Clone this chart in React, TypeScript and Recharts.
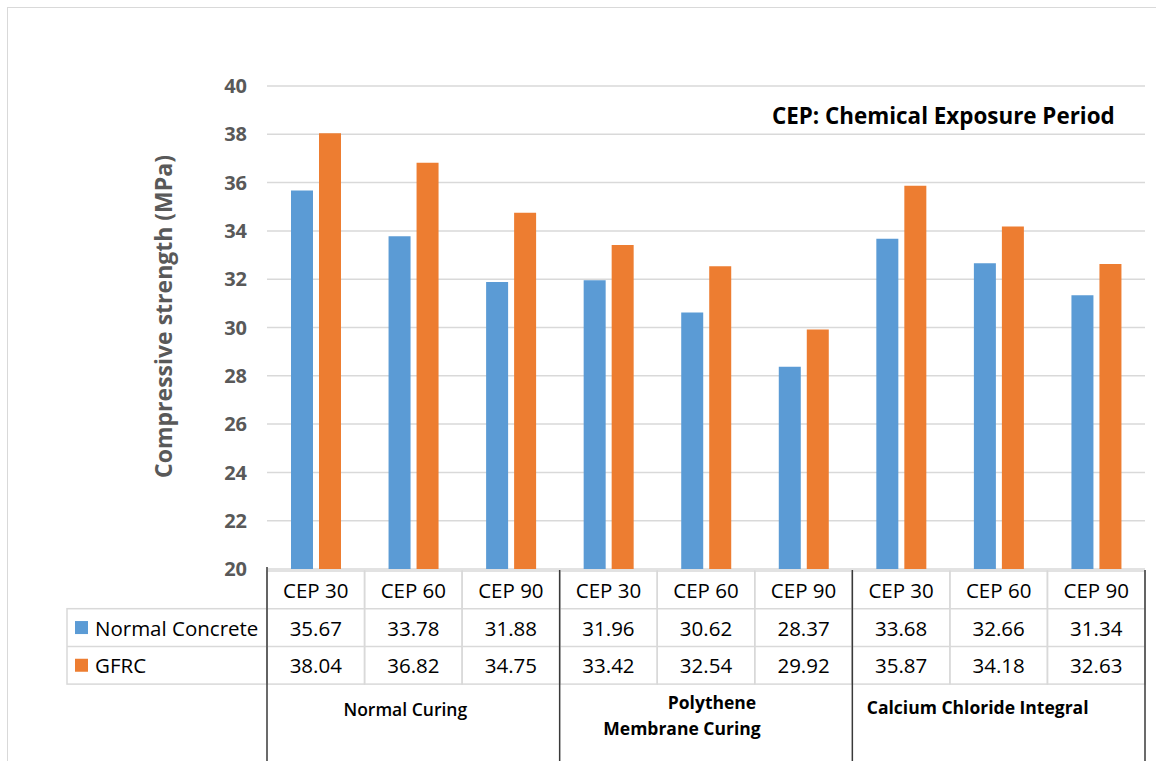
import { BarChart, Bar, XAxis, YAxis, CartesianGrid } from 'recharts';

// Compressive strength per curing method and chemical exposure period
const periods = ['CEP 30', 'CEP 60', 'CEP 90'];
const curingMethods = ['Normal Curing', 'Polythene Membrane Curing', 'Calcium Chloride Integral'];
const normalConcrete = [35.67, 33.78, 31.88, 31.96, 30.62, 28.37, 33.68, 32.66, 31.34];
const gfrc = [38.04, 36.82, 34.75, 33.42, 32.54, 29.92, 35.87, 34.18, 32.63];
const yTicks = [20, 22, 24, 26, 28, 30, 32, 34, 36, 38, 40];

const seriesNames = ['Normal Concrete', 'GFRC'];
const seriesColors = ['#5B9BD5', '#ED7D31'];

const data = curingMethods.flatMap((method, g) =>
  periods.map((period, p) => {
    const i = g * periods.length + p;
    return { id: `${method}|${period}`, period, method, normal: normalConcrete[i], gfrc: gfrc[i] };
  })
);

const WIDTH = 1156;
const HEIGHT = 761;
const MARGIN = { top: 86, right: 11, bottom: 0, left: 207 };
const X_AXIS_HEIGHT = 192;
const PLOT_W = WIDTH - MARGIN.left - 60 - MARGIN.right;
const BAND = PLOT_W / data.length;
const ROW_H = 37.7;
const LEGEND_W = 200;
const FONT = '"Open Sans", sans-serif';
const GRID = '#d9d9d9';
const DARK = '#3a3a3a';

function TableTick(props: any) {
  const { x, y, payload, index } = props;
  const row = data[index];
  const left = x - BAND / 2;
  const right = x + BAND / 2;
  const top = y;
  const values = [row.normal, row.gfrc];
  const posInGroup = index % periods.length;
  const group = Math.floor(index / periods.length);
  const tableBottom = top + ROW_H * 3;

  return (
    <g fontFamily={FONT}>
      {/* cell borders */}
      <rect x={left} y={top} width={BAND} height={ROW_H * 3} fill="none" stroke={GRID} strokeWidth={1.5} />
      <line x1={left} x2={right} y1={top + ROW_H} y2={top + ROW_H} stroke={GRID} strokeWidth={1.5} />
      <line x1={left} x2={right} y1={top + ROW_H * 2} y2={top + ROW_H * 2} stroke={GRID} strokeWidth={1.5} />
      <text x={x} y={top + ROW_H / 2} textAnchor="middle" dominantBaseline="central" fontSize={20.5} fill="#000">
        {payload.value.split('|')[1]}
      </text>
      {values.map((v, k) => (
        <text
          key={k}
          x={x}
          y={top + ROW_H * (k + 1.5)}
          textAnchor="middle"
          dominantBaseline="central"
          fontSize={20.5}
          fill="#000"
        >
          {v.toFixed(2)}
        </text>
      ))}

      {/* series legend column */}
      {index === 0 && (
        <g>
          <rect
            x={left - LEGEND_W}
            y={top + ROW_H}
            width={LEGEND_W}
            height={ROW_H * 2}
            fill="none"
            stroke={GRID}
            strokeWidth={1.5}
          />
          <line
            x1={left - LEGEND_W}
            x2={left}
            y1={top + ROW_H * 2}
            y2={top + ROW_H * 2}
            stroke={GRID}
            strokeWidth={1.5}
          />
          {seriesNames.map((name, k) => (
            <g key={name}>
              <rect
                x={left - LEGEND_W + 8}
                y={top + ROW_H * (k + 1.5) - 6.5}
                width={13}
                height={13}
                fill={seriesColors[k]}
              />
              <text
                x={left - LEGEND_W + 28}
                y={top + ROW_H * (k + 1.5)}
                dominantBaseline="central"
                fontSize={20.5}
                fill="#000"
              >
                {name}
              </text>
            </g>
          ))}
        </g>
      )}

      {/* group separators */}
      {posInGroup === 0 && (
        <line x1={left} x2={left} y1={index === 0 ? top - 4 : top - 1} y2={HEIGHT} stroke={DARK} strokeWidth={1.5} />
      )}
      {index === data.length - 1 && (
        <line x1={right} x2={right} y1={top - 1} y2={HEIGHT} stroke={DARK} strokeWidth={1.5} />
      )}

      {/* curing method labels */}
      {posInGroup === 1 && group === 0 && (
        <text x={x - 8} y={tableBottom + 25} textAnchor="middle" dominantBaseline="central" fontSize={17.5} fontWeight={600} fill="#000">
          {row.method}
        </text>
      )}
      {posInGroup === 1 && group === 1 && (
        <text textAnchor="middle" dominantBaseline="central" fontSize={17.5} fontWeight={700} fill="#000">
          <tspan x={x + 6} y={tableBottom + 18}>Polythene</tspan>
          <tspan x={x - 24} y={tableBottom + 44}>Membrane Curing</tspan>
        </text>
      )}
      {posInGroup === 1 && group === 2 && (
        <text x={x - 21} y={tableBottom + 23} textAnchor="middle" dominantBaseline="central" fontSize={17.5} fontWeight={700} fill="#000">
          {row.method}
        </text>
      )}
    </g>
  );
}

function AxisTitle(props: any) {
  const { viewBox } = props;
  const cx = viewBox.x - 44;
  const cy = viewBox.y + viewBox.height / 2 - 11;
  return (
    <text
      x={cx}
      y={cy}
      transform={`rotate(-90, ${cx}, ${cy})`}
      textAnchor="middle"
      dominantBaseline="central"
      fontFamily={FONT}
      fontSize={23}
      fontWeight={700}
      fill="#595959"
    >
      Compressive strength (MPa)
    </text>
  );
}

export default function App() {
  return (
    <div style={{ position: 'absolute', left: 0, top: 0, width: WIDTH, height: HEIGHT, background: '#fff' }}>
      <BarChart
        width={WIDTH}
        height={HEIGHT}
        data={data}
        margin={MARGIN}
        barSize={22}
        barGap={6}
      >
        <CartesianGrid vertical={false} stroke={GRID} strokeWidth={1.5} />
        <XAxis
          dataKey="id"
          height={X_AXIS_HEIGHT}
          axisLine={false}
          tickLine={false}
          tickSize={0}
          interval={0}
          tick={<TableTick />}
        />
        <YAxis
          domain={[20, 40]}
          ticks={yTicks}
          width={60}
          axisLine={false}
          tickLine={false}
          tickSize={0}
          tickMargin={20}
          tick={{ fill: '#595959', fontSize: 20, fontWeight: 700, fontFamily: FONT }}
          label={<AxisTitle />}
        />
        <Bar dataKey="normal" name={seriesNames[0]} fill={seriesColors[0]} isAnimationActive={false} />
        <Bar dataKey="gfrc" name={seriesNames[1]} fill={seriesColors[1]} isAnimationActive={false} />
      </BarChart>
      <div
        style={{
          position: 'absolute',
          left: 772,
          top: 100,
          fontFamily: FONT,
          fontSize: 22.4,
          fontWeight: 700,
          color: '#000',
          whiteSpace: 'nowrap',
        }}
      >
        CEP: Chemical Exposure Period
      </div>
      <div
        style={{
          position: 'absolute',
          left: 7,
          top: 7,
          right: 0,
          bottom: 0,
          borderLeft: `1.5px solid ${GRID}`,
          borderTop: `1.5px solid ${GRID}`,
          pointerEvents: 'none',
        }}
      />
    </div>
  );
}
